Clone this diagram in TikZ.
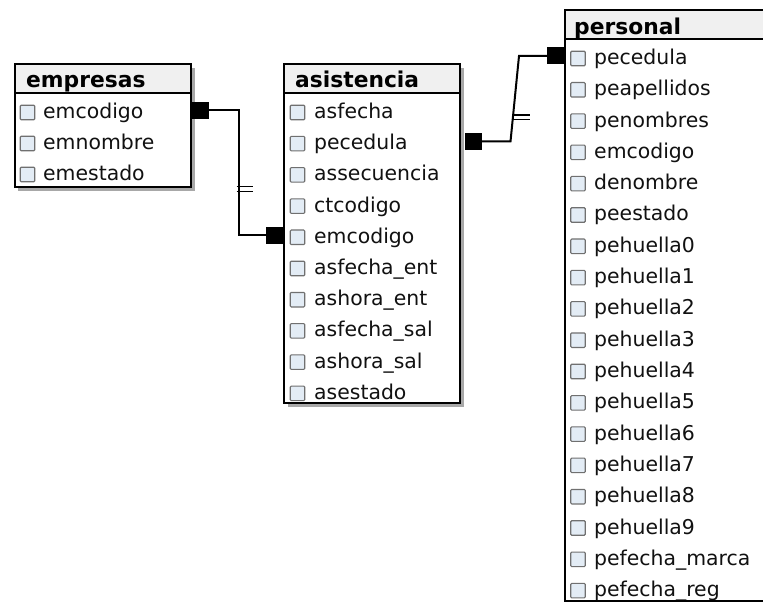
\documentclass[tikz,border=0pt]{standalone}
\usepackage{fontspec}
\setmainfont{DejaVu Sans}
\definecolor{headgray}{HTML}{F0F0F0}
\definecolor{chkblue}{HTML}{E3ECF5}
\definecolor{chkedge}{HTML}{707070}
\definecolor{shadowgray}{HTML}{A8A8A8}
\definecolor{inktext}{HTML}{111111}
\begin{document}
\begin{tikzpicture}[x=1pt,y=-1pt,
  tablebox/.style={draw=black,line width=2pt},
  tabhead/.style={fill=headgray},
  tabshadow/.style={fill=shadowgray},
  tabtitle/.style={anchor=base west,inner sep=0pt,font=\fontsize{21.8}{24}\bfseries\selectfont,text=black},
  tabfield/.style={anchor=base west,inner sep=0pt,font=\fontsize{20.4}{24}\selectfont,text=inktext},
  chk/.style={draw=chkedge,fill=chkblue,minimum size=14.5pt,inner sep=0pt,rounded corners=1pt,line width=1.1pt},
  keysq/.style={fill=black,minimum width=17pt,minimum height=17pt,inner sep=0pt},
  link/.style={line width=2pt},
  tick/.style={line width=1.8pt}
]
\useasboundingbox (0,0) rectangle (763,604);
\clip (0,0) rectangle (763,604);

% ---------- table: empresas ----------
\fill[tabshadow] (18,68) rectangle (195,191);
\fill[white] (15,64) rectangle (191,187);
\fill[tabhead] (15,64) rectangle (191,93);
\draw[line width=2pt] (15,93) -- (191,93);
\draw[tablebox] (15,64) rectangle (191,187);
\node[tabtitle] (emp) at (26,88) {empresas};
\foreach \fname [count=\i from 0] in {emcodigo,emnombre,emestado} {
  \node[chk] (emp-c\i) at (27.5,{112.5+31*\i}) {};
  \node[tabfield] (emp-\i) at (43,{118.5+31*\i}) {\fname};
}

% ---------- table: asistencia ----------
\fill[tabshadow] (288,68) rectangle (464,407);
\fill[white] (284,64) rectangle (460,403);
\fill[tabhead] (284,64) rectangle (460,93);
\draw[line width=2pt] (284,93) -- (460,93);
\draw[tablebox] (284,64) rectangle (460,403);
\node[tabtitle] (asi) at (295,88) {asistencia};
\foreach \fname [count=\i from 0] in {asfecha,pecedula,assecuencia,ctcodigo,emcodigo,
    asfecha\_ent,ashora\_ent,asfecha\_sal,ashora\_sal,asestado} {
  \node[chk] (asi-c\i) at (297.5,{112.5+31.2*\i}) {};
  \node[tabfield] (asi-\i) at (314,{118.5+31.2*\i}) {\fname};
}

% ---------- table: personal ----------
\fill[white] (565,10) rectangle (800,601);
\fill[tabhead] (565,10) rectangle (800,39);
\node[tabtitle] (per) at (574,34.5) {personal};
\foreach \fname [count=\i from 0] in {pecedula,peapellidos,penombres,emcodigo,denombre,peestado,
    pehuella0,pehuella1,pehuella2,pehuella3,pehuella4,pehuella5,pehuella6,pehuella7,
    pehuella8,pehuella9,pefecha\_marca,pefecha\_reg} {
  \node[chk] (per-c\i) at (578,{58.5+31.3*\i}) {};
  \node[tabfield] (per-\i) at (594,{64.5+31.3*\i}) {\fname};
}
\draw[line width=2pt] (565,39) -- (800,39);
\draw[tablebox] (565,10) rectangle (800,601);

% ---------- relationship: empresas.emcodigo -> asistencia.emcodigo ----------
\node[keysq] (k1a) at (200.5,110.5) {};
\node[keysq] (k1b) at (274.5,235.5) {};
\coordinate (r1) at (238.5,110.5);
\draw[link] (k1a.east) -- (r1) -- (r1 |- k1b.west) -- (k1b.west);
\draw[tick] ([xshift=-2pt]r1 |- 0,186.5) -- ++(16,0);
\draw[tick] ([xshift=-2pt]r1 |- 0,191.5) -- ++(16,0);

% ---------- relationship: asistencia.pecedula -> personal.pecedula ----------
\node[keysq] (k2a) at (473.5,141.5) {};
\node[keysq] (k2b) at (555.5,56) {};
\coordinate (r2a) at (510.5,141.5);
\coordinate (r2b) at (519,56);
\draw[link] (k2a.east) -- (r2a) -- (r2b) -- (k2b.west);
\draw[tick] (513,115) -- ++(17,0);
\draw[tick] (513,119.5) -- ++(17,0);
\end{tikzpicture}
\end{document}
